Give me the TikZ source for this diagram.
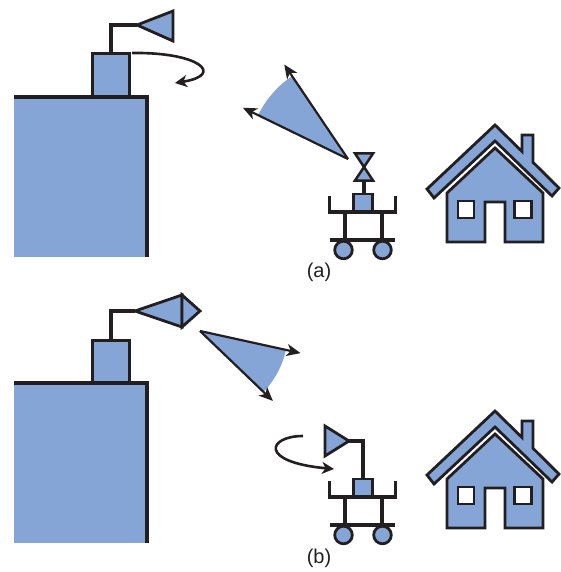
\documentclass[tikz,border=0pt]{standalone}
\usepackage{fontspec}
\setmainfont{Liberation Sans}
\usetikzlibrary{arrows.meta}
\definecolor{fillblue}{HTML}{85A5D6}
\definecolor{ink}{HTML}{231F20}

\tikzset{
  body/.style={fill=fillblue,draw=ink,line width=2.8pt,line join=miter},
  rod/.style={draw=ink,line width=3.2pt,line join=miter},
  beamedge/.style={draw=ink,line width=2.2pt,-{Stealth[length=14pt,width=12pt,inset=4pt]}},
  turn/.style={draw=ink,line width=2.6pt,-{Stealth[length=12pt,width=12pt,inset=3.5pt]}},
  caption/.style={font=\fontsize{20}{24}\selectfont,text=ink,inner sep=0pt},
  % tall building with its roof box
  tower/.pic={
    \fill[fillblue] (14,97) rectangle (146,257);
    \draw[body,line width=3pt] (92,54) rectangle (129,97);
    \draw[ink,line width=4pt] (14,97) -- (147,97) -- (147,257);
  },
  % wheeled platform with its small box
  cart/.pic={
    \draw[rod] (329.5,196) -- (329.5,212) -- (395.5,212) -- (395.5,196);
    \draw[rod] (345,212) -- (345,240);
    \draw[rod] (382,212) -- (382,240);
    \draw[rod] (330,240) -- (395,240);
    \draw[body] (343.5,250) circle (8.8);
    \draw[body] (382.5,250) circle (8.8);
    \draw[body] (353.5,194) rectangle (372.5,211);
  },
  % house with roof band, chimney and windows
  house/.pic={
    \draw[body] (427,189) -- (495,125) -- (522,151.5) -- (522,135) -- (533,135)
      -- (533,162.3) -- (559,188) -- (552,196) -- (495,141) -- (434,198) -- cycle;
    \draw[body] (495,148) -- (447,193) -- (447,242) -- (485,242) -- (485,202)
      -- (505,202) -- (505,242) -- (543,242) -- (543,193) -- cycle;
    \draw[ink,fill=white,line width=2.8pt] (458,201) rectangle (474,218);
    \draw[ink,fill=white,line width=2.8pt] (514.5,201) rectangle (531.5,218);
  }
}

\begin{document}
\begin{tikzpicture}[x=1pt,y=-1pt]
\useasboundingbox (0,0) rectangle (561,572);

% ---------------- (a) ----------------
\pic {tower};
\draw[rod] (111,54) -- (111,25) -- (137,25);
\draw[body] (137,25) -- (173,11) -- (173,41) -- cycle;
\draw[turn] (132,53) .. controls (200,52) and (225,75) .. (175,83);

\coordinate (apexA) at (348,159);
\fill[fillblue] (apexA) -- ++(206:100) arc[start angle=206,end angle=236,radius=100] -- cycle;
\draw[beamedge] (apexA) -- ++(236:114) coordinate (tipA1);
\draw[beamedge] (apexA) -- ++(206:117) coordinate (tipA2);

\pic {cart};
\draw[rod] (364,181) -- (364,194);
\draw[body,line width=2.5pt] (355,153.5) -- (373,153.5) -- (364,167) -- cycle;
\draw[body,line width=2.5pt] (364,167) -- (355,180.5) -- (373,180.5) -- cycle;

\pic {house};
\node[caption] (capa) at (319,272) {(a)};

% ---------------- (b) ----------------
\pic at (0,286) {tower};
\draw[rod] (111,340) -- (111,311) -- (135,311);
\draw[body] (135,311) -- (182,295) -- (182,327) -- cycle;
\draw[body] (182,295) -- (200,311) -- (182,327) -- cycle;

\coordinate (apexB) at (200,331);
\fill[fillblue] (apexB) -- ++(12.4:88) arc[start angle=12.4,end angle=43.8,radius=88] -- cycle;
\draw[beamedge] (apexB) -- ++(12.4:103) coordinate (tipB1);
\draw[beamedge] (apexB) -- ++(43.8:101) coordinate (tipB2);

\pic at (0,285) {cart};
\draw[rod] (363,479) -- (363,441) -- (349,441);
\draw[body] (349,441) -- (325,426) -- (325,456) -- cycle;
\draw[turn] (303,436) .. controls (268,436) and (258,462) .. (334,469);

\pic at (0,286) {house};
\node[caption] (capb) at (319,558) {(b)};
\end{tikzpicture}
\end{document}
